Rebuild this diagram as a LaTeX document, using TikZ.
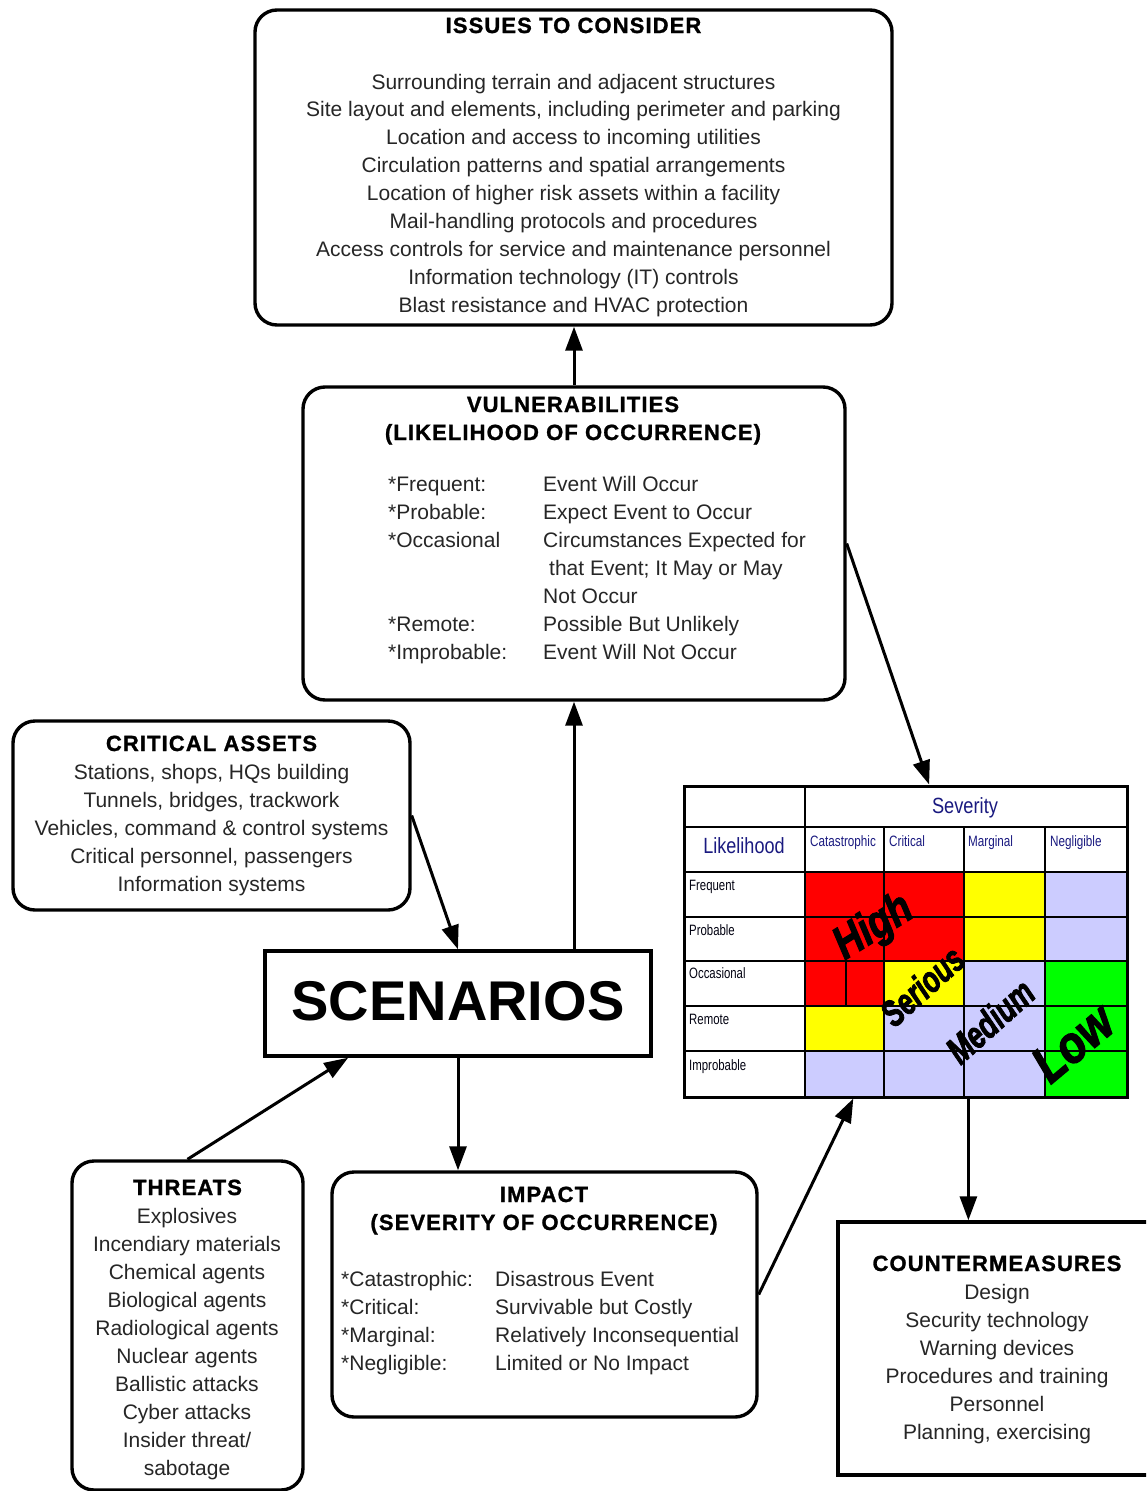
\documentclass[tikz,border=0pt]{standalone}
\usepackage{fontspec}
\setmainfont{Liberation Sans}
\newfontfamily\ttlfont{Liberation Sans}[LetterSpace=5, BoldFeatures={FakeBold=1.2}]
\newfontfamily\bigfont{Liberation Sans}[BoldItalicFeatures={FakeBold=2.5}]
\usetikzlibrary{arrows.meta,calc}
\definecolor{rred}{HTML}{FF0000}
\definecolor{ryel}{HTML}{FFFF00}
\definecolor{rlav}{HTML}{CCCCFF}
\definecolor{rgrn}{HTML}{00FF00}
\definecolor{navyt}{HTML}{1A1A80}
\definecolor{bodyt}{HTML}{262626}
\begin{document}
\begin{tikzpicture}[x=1pt,y=-1pt,
  rbox/.style={draw, line width=3.4pt, rounded corners=22pt, inner sep=0pt, fill=white},
  sbox/.style={draw, line width=3.4pt, inner sep=0pt, fill=white},
  arr/.style={line width=3pt, -{Triangle[length=24pt,width=17pt]}},
  txt/.style={font=\fontsize{21}{25}\selectfont, text=bodyt, inner sep=0pt, anchor=base},
  txtw/.style={txt, anchor=base west},
  ttl/.style={font={\ttlfont\bfseries\fontsize{22}{26}\selectfont}, text=black, inner sep=0pt, anchor=base},
  hdr/.style={font=\fontsize{22}{26}\selectfont, text=navyt, inner sep=0pt, anchor=base},
  sml/.style={font=\fontsize{15}{18}\selectfont, text=navyt, inner sep=0pt, anchor=base west},
  big/.style={text=black, inner sep=0pt},
  grid/.style={line width=1.3pt, black}
]
\useasboundingbox (0,0) rectangle (1146,1491);
\fill[white] (0,0) rectangle (1146,1491);
\clip (0,0) rectangle (1146,1491);

% ---------- boxes ----------
\node[rbox, minimum width=637pt, minimum height=315pt] (issues) at (573.5,167.5) {};
\node[rbox, minimum width=542pt, minimum height=313pt] (vuln) at (574,543.5) {};
\node[rbox, minimum width=397pt, minimum height=189pt] (crit) at (211.5,815.5) {};
\node[sbox, minimum width=386pt, minimum height=105pt] (scen) at (458,1003.5) {};
\node[rbox, minimum width=231pt, minimum height=329pt] (threats) at (187.5,1325.5) {};
\node[rbox, minimum width=425pt, minimum height=245pt] (impact) at (544.5,1294.5) {};
\node[sbox, minimum width=322pt, minimum height=253pt] (counter) at (999,1348.5) {};

% ---------- issues text ----------
\node[ttl] (issT) at (573.5,33) {ISSUES TO CONSIDER};
\foreach \t [count=\i] in {Surrounding terrain and adjacent structures,
  {Site layout and elements, including perimeter and parking},
  Location and access to incoming utilities,
  Circulation patterns and spatial arrangements,
  Location of higher risk assets within a facility,
  Mail-handling protocols and procedures,
  Access controls for service and maintenance personnel,
  Information technology (IT) controls,
  Blast resistance and HVAC protection}
  \node[txt] (iss\i) at (573.5,{89+27.9*(\i-1)}) {\t};

% ---------- vulnerabilities text ----------
\node[ttl] (vulT1) at (573,412) {VULNERABILITIES};
\node[ttl] (vulT2) at (573,440) {(LIKELIHOOD OF OCCURRENCE)};
\node[txtw] (vl1) at (388,491) {*Frequent:};
\node[txtw] (vl2) at (388,519) {*Probable:};
\node[txtw] (vl3) at (388,547) {*Occasional};
\node[txtw] (vl6) at (388,631) {*Remote:};
\node[txtw] (vl7) at (388,659) {*Improbable:};
\node[txtw] (vr1) at (543,491) {Event Will Occur};
\node[txtw] (vr2) at (543,519) {Expect Event to Occur};
\node[txtw] (vr3) at (543,547) {Circumstances Expected for};
\node[txtw] (vr4) at (549,575) {that Event; It May or May};
\node[txtw] (vr5) at (543,603) {Not Occur};
\node[txtw] (vr6) at (543,631) {Possible But Unlikely};
\node[txtw] (vr7) at (543,659) {Event Will Not Occur};

% ---------- critical assets ----------
\node[ttl] (critT) at (211.5,751) {CRITICAL ASSETS};
\foreach \t [count=\i] in {{Stations, shops, HQs building},
  {Tunnels, bridges, trackwork},
  {Vehicles, command \& control systems},
  {Critical personnel, passengers},
  Information systems}
  \node[txt] (crit\i) at (211.5,{779+28*(\i-1)}) {\t};

% ---------- scenarios ----------
\node[font=\bfseries\fontsize{56}{60}\selectfont, inner sep=0pt, anchor=base] (scenT) at (458,1020) {SCENARIOS};

% ---------- threats ----------
\node[ttl] (thrT) at (187.5,1195) {THREATS};
\foreach \t [count=\i] in {Explosives, Incendiary materials, Chemical agents,
  Biological agents, Radiological agents, Nuclear agents, Ballistic attacks,
  Cyber attacks, Insider threat/, sabotage}
  \node[txt] (thr\i) at (187,{1223+28*(\i-1)}) {\t};

% ---------- impact ----------
\node[ttl] (impT1) at (544,1202) {IMPACT};
\node[ttl] (impT2) at (544,1230) {(SEVERITY OF OCCURRENCE)};
\node[txtw] (il1) at (341,1286) {*Catastrophic:};
\node[txtw] (il2) at (341,1314) {*Critical:};
\node[txtw] (il3) at (341,1342) {*Marginal:};
\node[txtw] (il4) at (341,1370) {*Negligible:};
\node[txtw] (ir1) at (495,1286) {Disastrous Event};
\node[txtw] (ir2) at (495,1314) {Survivable but Costly};
\node[txtw] (ir3) at (495,1342) {Relatively Inconsequential};
\node[txtw] (ir4) at (495,1370) {Limited or No Impact};

% ---------- countermeasures ----------
\node[ttl] (cmT) at (997,1271) {COUNTERMEASURES};
\foreach \t [count=\i] in {Design, Security technology, Warning devices,
  Procedures and training, Personnel, {Planning, exercising}}
  \node[txt] (cm\i) at (997,{1299+28*(\i-1)}) {\t};

% ---------- risk matrix ----------
% row 1 Frequent
\fill[rred] (805,872) rectangle (964,917);
\fill[ryel] (964,872) rectangle (1045,917);
\fill[rlav] (1045,872) rectangle (1126,917);
% row 2 Probable
\fill[rred] (805,917) rectangle (964,961);
\fill[ryel] (964,917) rectangle (1045,961);
\fill[rlav] (1045,917) rectangle (1126,961);
% row 3 Occasional
\fill[rred] (805,961) rectangle (884,1006);
\fill[ryel] (884,961) rectangle (964,1006);
\fill[rlav] (964,961) rectangle (1045,1006);
\fill[rgrn] (1045,961) rectangle (1126,1006);
% row 4 Remote
\fill[ryel] (805,1006) rectangle (884,1051);
\fill[rlav] (884,1006) rectangle (1045,1051);
\fill[rgrn] (1045,1006) rectangle (1126,1051);
% row 5 Improbable
\fill[rlav] (805,1051) rectangle (1045,1096);
\fill[rgrn] (1045,1051) rectangle (1126,1096);
% grid
\foreach \yy in {827,872,917,961,1006,1051}
  \draw[grid] (685,\yy) -- (1126,\yy);
\draw[grid] (805,787) -- (805,1096);
\foreach \xx in {884,964,1045}
  \draw[grid] (\xx,827) -- (\xx,1096);
\draw[grid] (846,961) -- (846,1006);
\node[draw, line width=3pt, minimum width=443pt, minimum height=311pt, inner sep=0pt] (risk) at (905.5,941.5) {};

\node[hdr] (sev) at (965,813) {\scalebox{0.83}[1]{Severity}};
\node[hdr] (lik) at (744,853) {\scalebox{0.82}[1]{Likelihood}};
\node[sml] (c1) at (810,846) {\scalebox{0.78}[1]{Catastrophic}};
\node[sml] (c2) at (889,846) {\scalebox{0.78}[1]{Critical}};
\node[sml] (c3) at (968,846) {\scalebox{0.78}[1]{Marginal}};
\node[sml] (c4) at (1050,846) {\scalebox{0.78}[1]{Negligible}};
\node[sml, text=black!85!navyt] (r1) at (689,890) {\scalebox{0.76}[1]{Frequent}};
\node[sml, text=black!85!navyt] (r2) at (689,935) {\scalebox{0.76}[1]{Probable}};
\node[sml, text=black!85!navyt] (r3) at (689,978) {\scalebox{0.76}[1]{Occasional}};
\node[sml, text=black!85!navyt] (r4) at (689,1024) {\scalebox{0.76}[1]{Remote}};
\node[sml, text=black!85!navyt] (r5) at (689,1070) {\scalebox{0.76}[1]{Improbable}};

\node[big, font=\bigfont\bfseries\itshape\fontsize{46}{50}\selectfont, rotate=32] (high) at (874,928) {\scalebox{0.82}[1]{High}};
\node[big, font=\bigfont\bfseries\itshape\fontsize{37}{40}\selectfont, rotate=42] (serious) at (922,986) {\scalebox{0.72}[1]{Serious}};
\node[big, font=\bigfont\bfseries\itshape\fontsize{38}{42}\selectfont, rotate=42] (medium) at (990,1021) {\scalebox{0.72}[1]{Medium}};
\node[big, font=\bigfont\bfseries\itshape\fontsize{52}{56}\selectfont, rotate=40] (low) at (1073,1043) {\scalebox{0.85}[1]{Low}};

% ---------- connectors ----------
\coordinate (scenBL) at ($(scen.south west)!0.218!(scen.south east)$);
\coordinate (riskB1) at ($(risk.south west)!0.383!(risk.south east)$);
\coordinate (riskT) at ($(risk.north west)!0.553!(risk.north east)$);
\coordinate (riskB2) at ($(risk.south west)!0.641!(risk.south east)$);

\draw[arr] (vuln.north) -- (vuln.north |- issues.south);
\draw[arr] (vuln.south |- scen.north) -- (vuln.south);
\draw[arr] (crit.east) -- (scen.north);
\draw[arr] (threats.north) -- (scenBL);
\draw[arr] (scen.south) -- (scen.south |- impact.north);
\draw[arr] (impact.east) -- (riskB1);
\draw[arr] (vuln.east) -- (riskT);
\draw[arr] (riskB2) -- (riskB2 |- counter.north);
\end{tikzpicture}
\end{document}
